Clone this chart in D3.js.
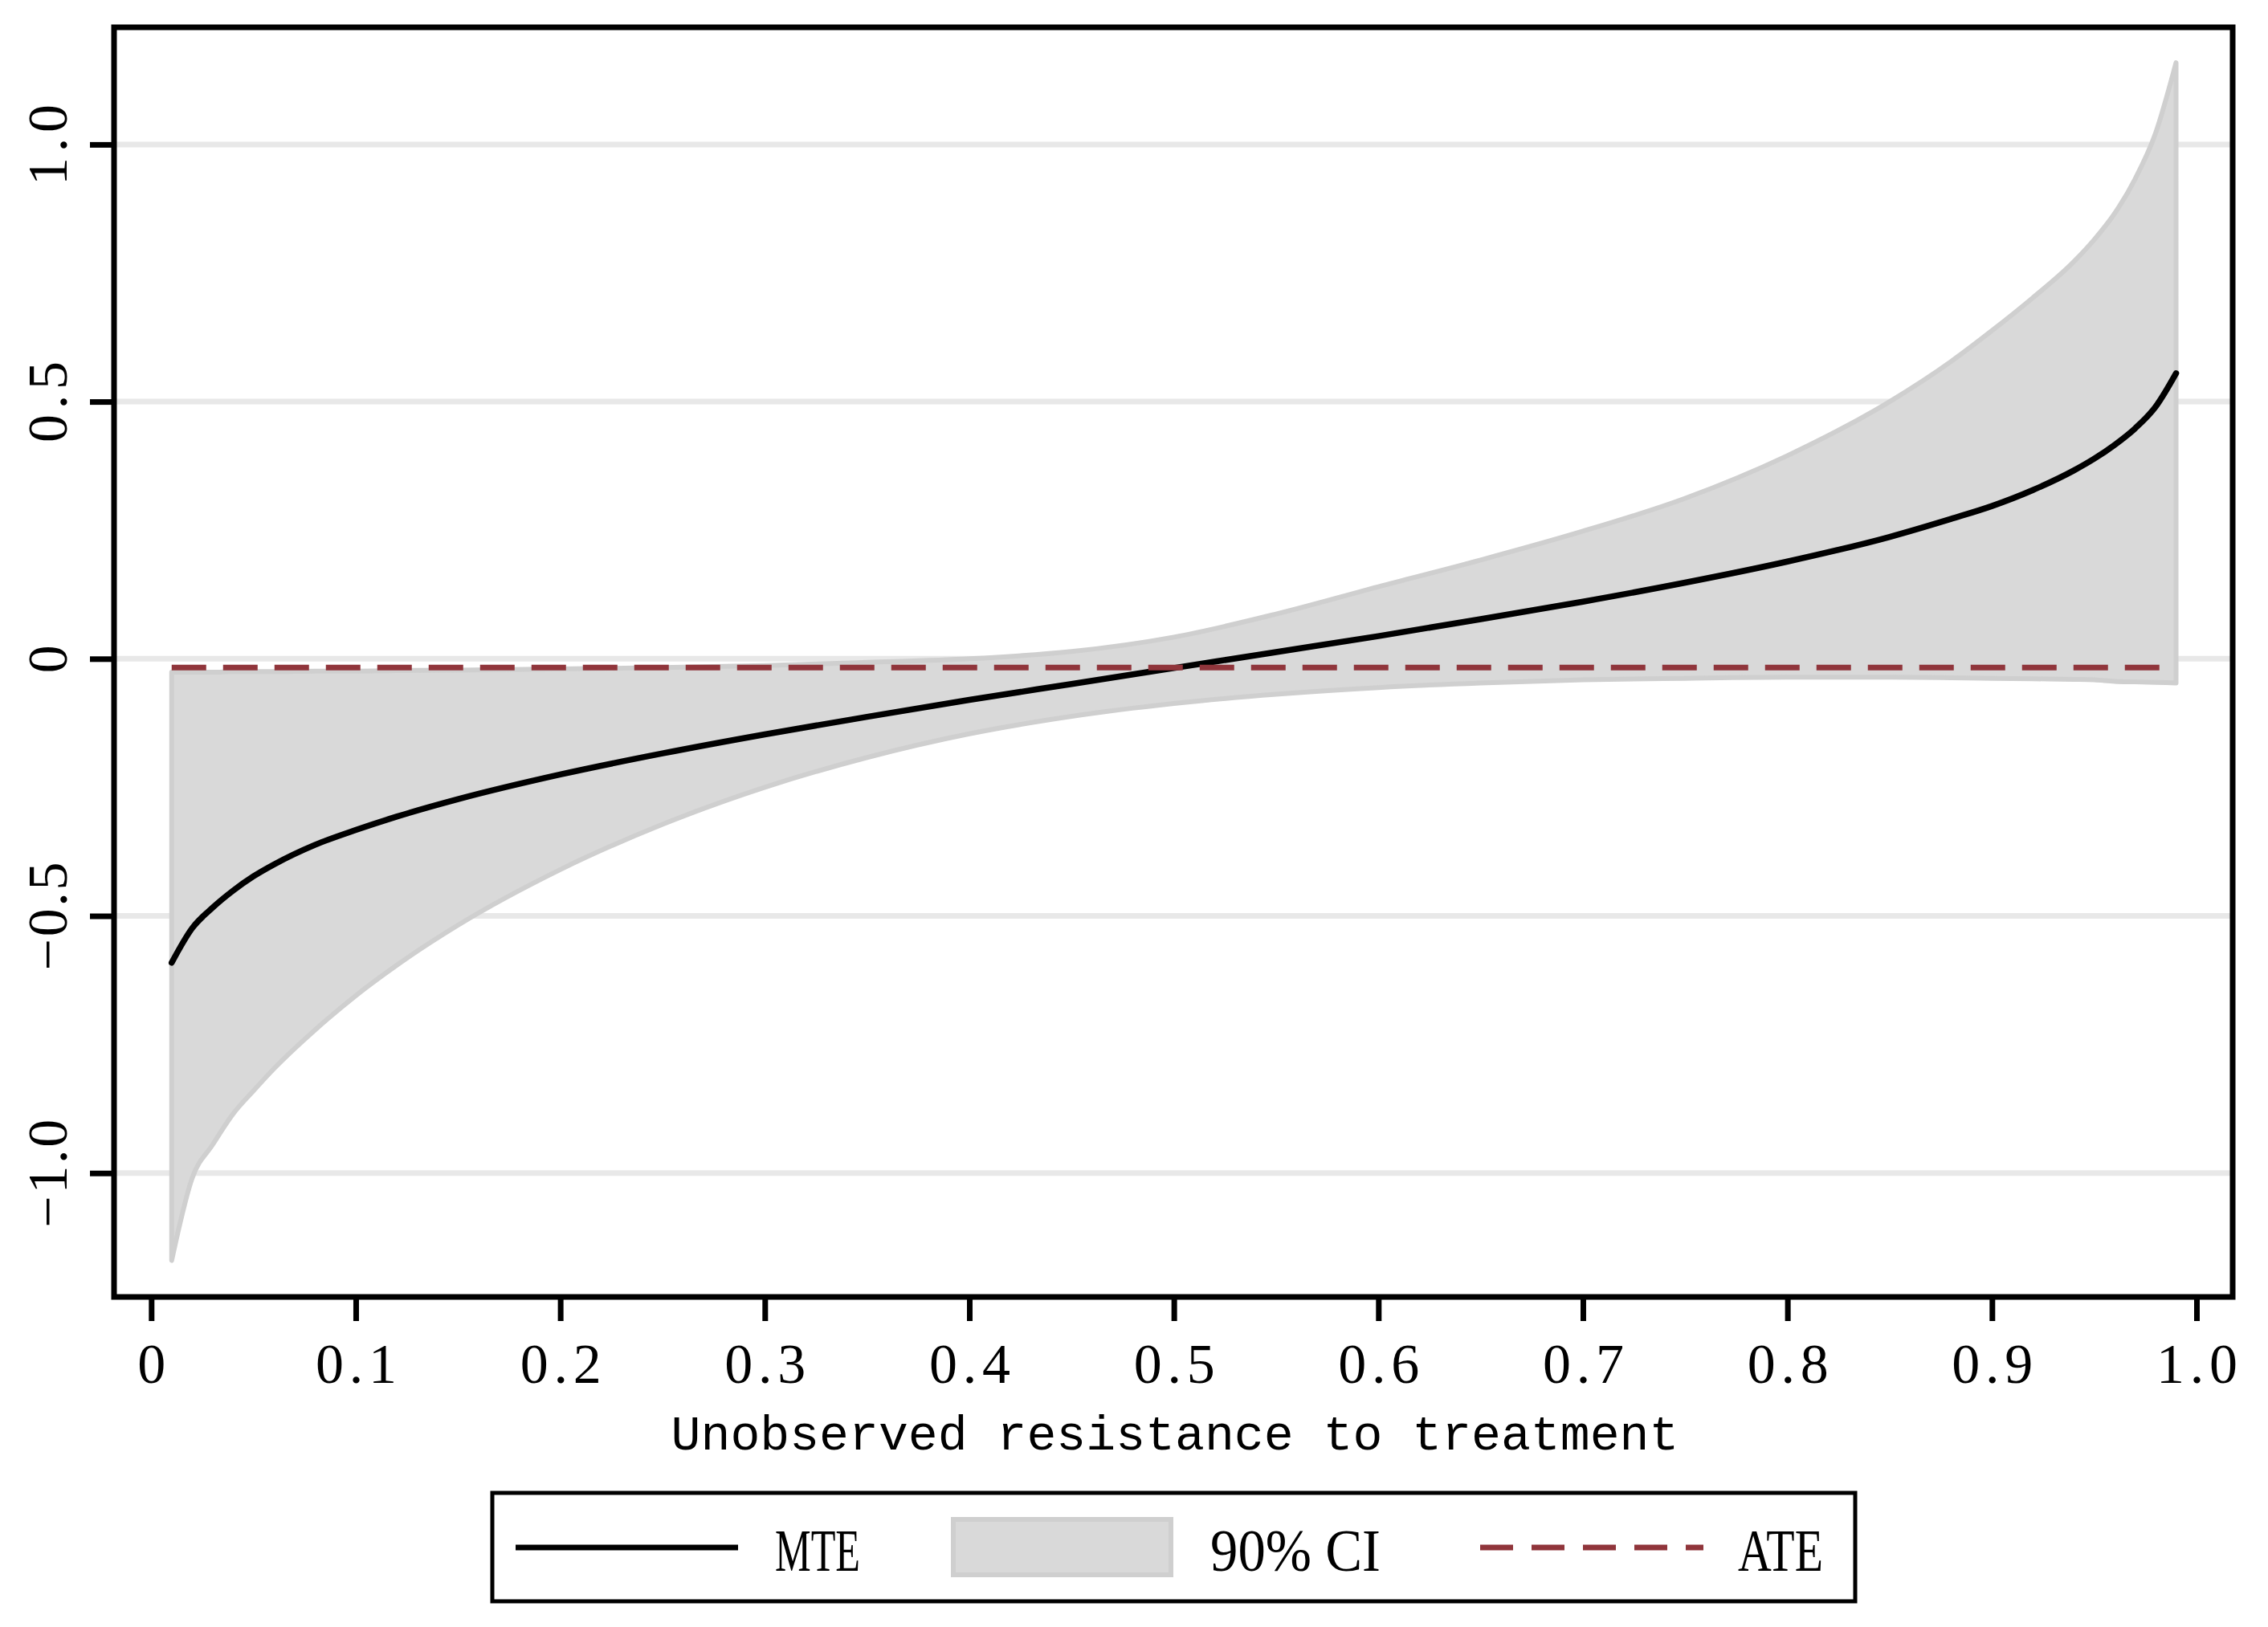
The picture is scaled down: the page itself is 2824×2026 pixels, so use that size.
<!DOCTYPE html>
<html>
<head>
<meta charset="utf-8">
<script src="https://cdn.jsdelivr.net/npm/d3@7"></script>
<style>
  body { margin: 0; background: #fff; }
  svg { display: block; }
</style>
</head>
<body>
<div id="chart"></div>
<script>
// unobserved resistance grid
var uGrid = [0.01, 0.02, 0.03, 0.04, 0.05, 0.06, 0.08, 0.10, 0.12, 0.15, 0.20, 0.25, 0.30, 0.35, 0.40, 0.45,
  0.50, 0.55, 0.60, 0.65, 0.70, 0.75, 0.80, 0.85, 0.88, 0.90, 0.92, 0.94, 0.95, 0.96, 0.97, 0.98, 0.99];

var mteValues = [-0.591, -0.524, -0.484, -0.451, -0.423, -0.400, -0.362, -0.333, -0.307, -0.273, -0.225, -0.184,
  -0.147, -0.113, -0.080, -0.049, -0.018, 0.013, 0.044, 0.077, 0.111, 0.148, 0.189, 0.237, 0.272, 0.297,
  0.328, 0.366, 0.389, 0.416, 0.448, 0.490, 0.555];

var ciUpper = [-0.026, -0.026, -0.026, -0.025, -0.025, -0.025, -0.024, -0.024, -0.023, -0.022, -0.020, -0.017,
  -0.013, -0.007, 0.000, 0.014, 0.042, 0.087, 0.140, 0.192, 0.248, 0.312, 0.395, 0.500, 0.578, 0.638,
  0.702, 0.772, 0.815, 0.866, 0.933, 1.022, 1.159];

var ciLower = [-1.170, -1.010, -0.945, -0.885, -0.840, -0.797, -0.722, -0.655, -0.596, -0.518, -0.410, -0.322,
  -0.250, -0.192, -0.146, -0.112, -0.087, -0.069, -0.056, -0.047, -0.041, -0.038, -0.036, -0.036, -0.037,
  -0.038, -0.039, -0.040, -0.041, -0.044, -0.045, -0.046, -0.047];

var ateValue = -0.017;

var xTicks = [0, 0.1, 0.2, 0.3, 0.4, 0.5, 0.6, 0.7, 0.8, 0.9, 1.0];
var xTickLabels = ["0", "0.1", "0.2", "0.3", "0.4", "0.5", "0.6", "0.7", "0.8", "0.9", "1.0"];
var yTicks = [-1, -0.5, 0, 0.5, 1];
var yTickLabels = ["\u22121.0", "\u22120.5", "0", "0.5", "1.0"];

var legendLabels = ["MTE", "90% CI", "ATE"];
var xTitle = "Unobserved resistance to treatment";

var width = 2824, height = 2026
  , frame = { left: 142, top: 34, right: 2780, bottom: 1615 }
  , serif = "'Liberation Serif', 'DejaVu Serif', serif"
  , mono = "'Liberation Mono', 'DejaVu Sans Mono', monospace"
  , bandFill = "#d9d9d9"
  , bandEdge = "#cfcfcf"
  , ateColor = "#90353b";

var svg = d3.select("#chart").append("svg")
  .attr("width", width)
  .attr("height", height);

var x = d3.scaleLinear().domain([-0.01818, 1.01768]).range([frame.left, frame.right]);
var y = d3.scaleLinear().domain([-1.2409, 1.2278]).range([frame.bottom, frame.top]);

var rows = uGrid.map(function (u, i) {
  return { u: u, mte: mteValues[i], lo: ciLower[i], hi: ciUpper[i] };
});

// grid lines
svg.append("g")
  .selectAll("line")
  .data(yTicks)
  .enter().append("line")
  .attr("x1", frame.left + 3)
  .attr("x2", frame.right + 3)
  .attr("y1", function (d) { return y(d); })
  .attr("y2", function (d) { return y(d); })
  .attr("stroke", "#e8e8e8")
  .attr("stroke-width", 7);

// confidence band
var band = d3.area()
  .x(function (d) { return x(d.u); })
  .y0(function (d) { return y(d.lo); })
  .y1(function (d) { return y(d.hi); })
  .curve(d3.curveMonotoneX);

svg.append("path")
  .datum(rows)
  .attr("d", band)
  .attr("fill", bandFill)
  .attr("stroke", bandEdge)
  .attr("stroke-width", 6)
  .attr("stroke-linejoin", "round");

// MTE curve
var mteLine = d3.line()
  .x(function (d) { return x(d.u); })
  .y(function (d) { return y(d.mte); })
  .curve(d3.curveMonotoneX);

svg.append("path")
  .datum(rows)
  .attr("d", mteLine)
  .attr("fill", "none")
  .attr("stroke", "#000")
  .attr("stroke-width", 7.5)
  .attr("stroke-linecap", "round")
  .attr("stroke-linejoin", "round");

// ATE line
svg.append("line")
  .attr("x1", x(uGrid[0]))
  .attr("x2", x(uGrid[uGrid.length - 1]))
  .attr("y1", y(ateValue))
  .attr("y2", y(ateValue))
  .attr("stroke", ateColor)
  .attr("stroke-width", 7)
  .attr("stroke-dasharray", "43,21");

// frame
svg.append("rect")
  .attr("x", frame.left)
  .attr("y", frame.top)
  .attr("width", frame.right - frame.left)
  .attr("height", frame.bottom - frame.top)
  .attr("fill", "none")
  .attr("stroke", "#000")
  .attr("stroke-width", 7);

function fitText(sel) {
  sel.each(function () {
    var t = d3.select(this), n = t.text().length;
    if (n > 1) t.attr("textLength", 34 * n - 1).attr("lengthAdjust", "spacing");
  });
}

// x axis
var xAxis = svg.append("g")
  .attr("transform", "translate(0," + frame.bottom + ")")
  .call(d3.axisBottom(x).tickValues(xTicks).tickSize(30)
    .tickFormat(function (d, i) { return xTickLabels[i]; }));
xAxis.select(".domain").remove();
xAxis.selectAll(".tick line").attr("stroke", "#000").attr("stroke-width", 7);
xAxis.selectAll(".tick text")
  .attr("y", 107)
  .attr("dy", 0)
  .attr("fill", "#000")
  .attr("font-family", serif)
  .attr("font-size", 70)
  .attr("text-anchor", "middle")
  .call(fitText);

// y axis
var yAxis = svg.append("g")
  .attr("transform", "translate(" + frame.left + ",0)")
  .call(d3.axisLeft(y).tickValues(yTicks).tickSize(30)
    .tickFormat(function (d, i) { return yTickLabels[i]; }));
yAxis.select(".domain").remove();
yAxis.selectAll(".tick line").attr("stroke", "#000").attr("stroke-width", 7);
yAxis.selectAll(".tick text")
  .attr("transform", "rotate(-90)")
  .attr("x", 0)
  .attr("y", -59)
  .attr("dy", 0)
  .attr("fill", "#000")
  .attr("font-family", serif)
  .attr("font-size", 70)
  .attr("text-anchor", "middle")
  .call(fitText);

// axis title
svg.append("text")
  .attr("x", (frame.left + frame.right) / 2 + 2)
  .attr("y", 1805)
  .attr("text-anchor", "middle")
  .attr("font-family", mono)
  .attr("font-size", 61.5)
  .attr("fill", "#000")
  .text(xTitle);

// legend
var legend = svg.append("g");
legend.append("rect")
  .attr("x", 613).attr("y", 1859)
  .attr("width", 1697).attr("height", 135)
  .attr("fill", "#fff")
  .attr("stroke", "#000")
  .attr("stroke-width", 5);

legend.append("line")
  .attr("x1", 642).attr("x2", 919)
  .attr("y1", 1927).attr("y2", 1927)
  .attr("stroke", "#000").attr("stroke-width", 7);

legend.append("rect")
  .attr("x", 1187).attr("y", 1892)
  .attr("width", 271).attr("height", 69)
  .attr("fill", bandFill)
  .attr("stroke", bandEdge)
  .attr("stroke-width", 6);

legend.append("line")
  .attr("x1", 1843).attr("x2", 2121)
  .attr("y1", 1927).attr("y2", 1927)
  .attr("stroke", ateColor).attr("stroke-width", 7)
  .attr("stroke-dasharray", "41,23");

var legendText = [
  { x: 965, w: 106 },
  { x: 1507, w: 212 },
  { x: 2164, w: 106 }
];
legend.selectAll("text.lab")
  .data(legendLabels)
  .enter().append("text")
  .attr("class", "lab")
  .attr("x", function (d, i) { return legendText[i].x; })
  .attr("y", 1956)
  .attr("textLength", function (d, i) { return legendText[i].w; })
  .attr("lengthAdjust", "spacingAndGlyphs")
  .attr("font-family", serif)
  .attr("font-size", 74)
  .attr("fill", "#000")
  .text(function (d) { return d; });
</script>
</body>
</html>
